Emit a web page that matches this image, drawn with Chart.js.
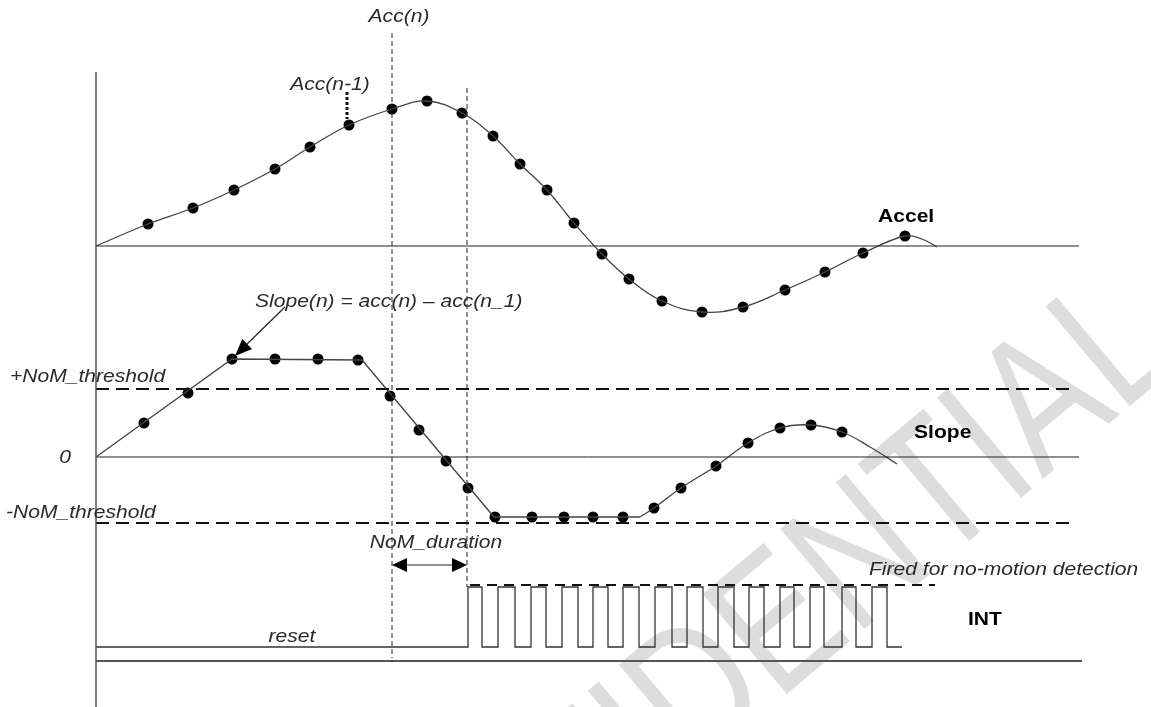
<!DOCTYPE html>
<html>
<head>
<meta charset="utf-8">
<script src="https://cdn.jsdelivr.net/npm/chart.js@4.4.0/dist/chart.umd.min.js"></script>
<style>
  html, body { margin: 0; padding: 0; background: #fff; }
  #wrap { width: 1151px; height: 707px; }
</style>
</head>
<body>
<div id="wrap"><canvas id="grafico" width="1151" height="707"></canvas></div>
<script>
// Valores: x = tempo, y = linha da figura (0 em cima)

// Accel: amostras (pontos) e curva
const accelX = [148, 193, 234, 275, 310, 349, 392, 427, 462, 493, 520, 547, 574, 602, 629, 662, 702, 743, 785, 825, 863, 905];
const accelY = [224, 208, 190, 169, 147, 125, 109, 101, 113, 136, 164, 190, 223, 254, 279, 301, 312, 307, 290, 272, 253, 236];
const accelCurveX = [96, 148, 193, 234, 275, 310, 349, 392, 427, 462, 493, 520, 547, 574, 602, 629, 662, 702, 743, 785, 825, 863, 905, 922, 937];
const accelCurveY = [246, 224, 208, 190, 169, 147, 125, 109, 101, 113, 136, 164, 190, 223, 254, 279, 301, 312, 307, 290, 272, 253, 236, 239, 247];

// Slope: amostras, trecho reto e trecho curvo
const slopeX = [144, 188, 232, 275, 318, 358, 390, 419, 446, 468, 495, 532, 564, 593, 623, 654, 681, 716, 748, 780, 811, 842];
const slopeY = [423, 393, 359, 359, 359, 360, 396, 430, 461, 488, 517, 517, 517, 517, 517, 508, 488, 466, 443, 428, 425, 432];
const slopeLineX = [96, 232, 362, 494, 640];
const slopeLineY = [457, 359, 360, 517, 517];
const slopeCurveX = [640, 654, 681, 716, 748, 780, 811, 842, 870, 897];
const slopeCurveY = [517, 508, 488, 466, 443, 428, 425, 432, 447, 464];

// Niveis de referencia
const accelZero = 246;
const slopeZero = 457;
const thrPos = 389;
const thrNeg = 523;
const intHigh = 587;
const intLow = 647;
const intBase = 661;

// INT: instantes das transicoes e estado logico depois de cada uma
const intEdges = [96, 468, 482, 498, 515, 531, 546, 562, 578, 593, 608, 623, 639, 655, 672, 687, 703, 718, 734, 749, 764, 780, 794, 810, 824, 842, 856, 872, 887, 902];
const intState = [0, 1, 0, 1, 0, 1, 0, 1, 0, 1, 0, 1, 0, 1, 0, 1, 0, 1, 0, 1, 0, 1, 0, 1, 0, 1, 0, 1, 0, 0];

// Instantes n-1, n, n+1
const tPrev = 347;
const tN = 392;
const tNext = 467;

// Textos
const textos = [
    { t: 'Acc(n)', x: 399, y: 17, a: 'center', b: false },
    { t: 'Acc(n-1)', x: 330, y: 85, a: 'center', b: false },
    { t: 'Slope(n) = acc(n) \u2013 acc(n_1)', x: 255, y: 302, a: 'left', b: false },
    { t: '+NoM_threshold', x: 10, y: 377, a: 'left', b: false },
    { t: '0', x: 65, y: 458, a: 'center', b: false },
    { t: '-NoM_threshold', x: 6, y: 513, a: 'left', b: false },
    { t: 'NoM_duration', x: 436, y: 543, a: 'center', b: false },
    { t: 'reset', x: 292, y: 637, a: 'center', b: false },
    { t: 'Fired for no-motion detection', x: 869, y: 570, a: 'left', b: false },
    { t: 'Accel', x: 878, y: 217, a: 'left', b: true },
    { t: 'Slope', x: 914, y: 433, a: 'left', b: true },
    { t: 'INT', x: 968, y: 620, a: 'left', b: true },
];

const pts = (xs, ys) => xs.map((x, i) => ({ x: x, y: ys[i] }));
const seg = (x1, y1, x2, y2) => [{ x: x1, y: y1 }, { x: x2, y: y2 }];

function linha(data, cor, largura, tracejado) {
    return {
        type: 'line', data: data, borderColor: cor, borderWidth: largura,
        borderDash: tracejado || [], pointRadius: 0, tension: 0, fill: false
    };
}

const intData = intEdges.map((x, i) => ({ x: x, y: intState[i] ? intHigh : intLow }));

const datasets = [
    // eixos e referencias
    linha(seg(96, 72, 96, 707), '#555', 1.5),
    linha(seg(96, accelZero, 1079, accelZero), '#222', 1),
    linha(seg(96, slopeZero, 1079, slopeZero), '#222', 1),
    linha(seg(96, intBase, 1082, intBase), '#555', 2),
    linha(seg(96, thrPos, 1074, thrPos), '#111', 2, [13, 7]),
    linha(seg(96, thrNeg, 1074, thrNeg), '#111', 2, [13, 7]),
    linha(seg(470, 585, 935, 585), '#111', 2, [10, 7]),
    linha(seg(tN, 33, tN, 658), '#222', 1, [5, 3]),
    linha(seg(tNext, 88, tNext, intHigh), '#222', 1, [5, 3]),
    linha(seg(tPrev, 92, tPrev, 119), '#111', 3, [3, 2]),
    linha(seg(285, 307, 243, 348), '#222', 1.2),
    linha(seg(tN + 12, 565, tNext - 12, 565), '#222', 1.2),
    // sinais
    Object.assign(linha(pts(accelCurveX, accelCurveY), '#444', 1.3), { tension: 0.4 }),
    linha(pts(slopeLineX, slopeLineY), '#444', 1.3),
    Object.assign(linha(pts(slopeCurveX, slopeCurveY), '#444', 1.3), { tension: 0.4 }),
    Object.assign(linha(intData, '#333', 1.3), { stepped: 'before' }),
    {
        type: 'scatter', data: pts(accelX, accelY), showLine: false,
        pointRadius: 5.5, backgroundColor: '#000', borderWidth: 0
    },
    {
        type: 'scatter', data: pts(slopeX, slopeY), showLine: false,
        pointRadius: 5.5, backgroundColor: '#000', borderWidth: 0
    },
];

// Marca d'agua por tras de tudo
const marcaDagua = {
    id: 'marcaDagua',
    beforeDatasetsDraw(chart) {
        const ctx = chart.ctx;
        ctx.save();
        ctx.translate(1185, 360);
        ctx.rotate(-40 * Math.PI / 180);
        ctx.scale(0.8, 1);
        ctx.font = '190px "Liberation Sans", Arial, sans-serif';
        ctx.fillStyle = '#dddddd';
        ctx.textAlign = 'right';
        ctx.textBaseline = 'alphabetic';
        ctx.fillText('CONFIDENTIAL', 0, 0);
        ctx.restore();
    }
};

// Setas e textos por cima
function ponta(ctx, x1, y1, x2, y2, tam, larg) {
    const ang = Math.atan2(y2 - y1, x2 - x1);
    ctx.save();
    ctx.translate(x2, y2);
    ctx.rotate(ang);
    ctx.beginPath();
    ctx.moveTo(0, 0);
    ctx.lineTo(-tam, -larg);
    ctx.lineTo(-tam, larg);
    ctx.closePath();
    ctx.fillStyle = '#000';
    ctx.fill();
    ctx.restore();
}

const anotacoes = {
    id: 'anotacoes',
    afterDatasetsDraw(chart) {
        const ctx = chart.ctx;
        const sx = chart.scales.x, sy = chart.scales.y;
        const X = v => sx.getPixelForValue(v), Y = v => sy.getPixelForValue(v);

        ponta(ctx, X(285), Y(307), X(235), Y(356), 17, 7);
        ponta(ctx, X(tNext), Y(565), X(tN), Y(565), 15, 7);
        ponta(ctx, X(tN), Y(565), X(tNext), Y(565), 15, 7);

        textos.forEach(o => {
            ctx.save();
            ctx.translate(X(o.x), Y(o.y));
            ctx.scale(1.17, 1);
            ctx.font = o.b ? 'bold 18px "Liberation Sans", Arial, sans-serif'
                           : 'italic 18px "Liberation Sans", Arial, sans-serif';
            ctx.fillStyle = o.b ? '#000' : '#2a2a2a';
            ctx.textAlign = o.a;
            ctx.textBaseline = 'middle';
            ctx.fillText(o.t, 0, 0);
            ctx.restore();
        });
    }
};

const ctx = document.getElementById('grafico').getContext('2d');
new Chart(ctx, {
    type: 'scatter',
    data: { datasets: datasets },
    options: {
        responsive: false,
        animation: false,
        layout: { padding: 0, autoPadding: false },
        clip: false,
        plugins: {
            legend: { display: false },
            tooltip: { enabled: false }
        },
        scales: {
            x: { type: 'linear', min: 0, max: 1151, display: false },
            y: { type: 'linear', min: 0, max: 707, reverse: true, display: false }
        }
    },
    plugins: [marcaDagua, anotacoes]
});
</script>
</body>
</html>
